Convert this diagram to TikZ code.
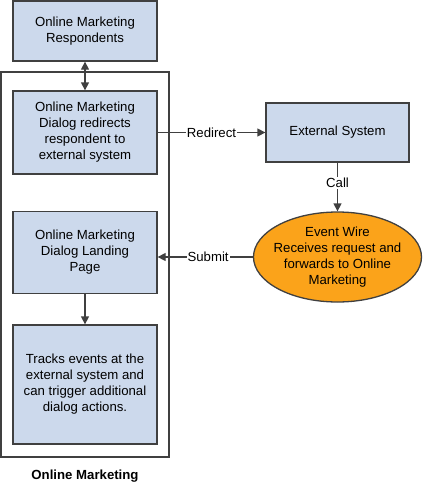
\documentclass[tikz,border=0pt]{standalone}
\usepackage{fontspec}
\setmainfont{Liberation Sans}
\usetikzlibrary{arrows.meta,shapes.geometric}
\definecolor{boxblue}{HTML}{CCD9EC}
\definecolor{ovalorange}{HTML}{FBA31A}
\definecolor{edge}{HTML}{404040}
\begin{document}
\begin{tikzpicture}[x=1pt,y=-1pt,
  txt/.style={font=\fontsize{13.2}{16}\selectfont},
  bbox/.style={draw=edge,line width=1.3pt,fill=boxblue,align=center,inner sep=0pt,txt},
  conn/.style={draw=edge,line width=1.3pt,-{Triangle[length=8pt,width=8pt]}},
  lbl/.style={txt,fill=white,inner sep=1pt}]
\useasboundingbox (0,0) rectangle (423,485);
\node[draw=edge,line width=1.2pt,minimum width=168pt,minimum height=385pt,inner sep=0pt] (outer) at (85,264.5) {};
\node[bbox,minimum width=144pt,minimum height=60pt] (resp) at (85,31) {Online Marketing\\Respondents};
\node[bbox,minimum width=144pt,minimum height=83pt] (dialog) at (85,132.5) {Online Marketing\\Dialog redirects\\respondent to\\external system};
\node[bbox,minimum width=144pt,minimum height=82pt] (landing) at (85,252.5) {Online Marketing\\Dialog Landing\\Page};
\node[bbox,minimum width=144pt,minimum height=119pt] (tracks) at (85,384.5) {Tracks events at the\\external system and\\can trigger additional\\dialog actions.};
\node[bbox,minimum width=143pt,minimum height=59pt] (ext) at (337.5,132.5) {External System};
\node[ellipse,draw=edge,line width=1.3pt,fill=ovalorange,minimum width=168pt,minimum height=90pt,inner sep=0pt] (wire) at (337.5,257) {};
\node[align=center,txt,inner sep=0pt] (wiretext) at (wire.center) {Event Wire\\Receives request and\\forwards to Online\\Marketing};
\node[font=\fontsize{13.2}{16}\selectfont\bfseries] (title) at (85,476) {Online Marketing};
\draw[conn,{Triangle[length=8pt,width=8pt]}-{Triangle[length=8pt,width=8pt]}] (resp.south) -- (dialog.north);
\draw[conn] (landing.south) -- (tracks.north);
\draw[conn] (dialog.east |- ext.west) -- node[lbl,pos=0.5] {Redirect} (ext.west);
\draw[conn] (ext.south) -- node[lbl,pos=0.42] {Call} (wire.north);
\draw[conn] (wire.west) -- node[lbl,pos=0.47] {Submit} (landing.east |- wire.west);
\end{tikzpicture}
\end{document}
